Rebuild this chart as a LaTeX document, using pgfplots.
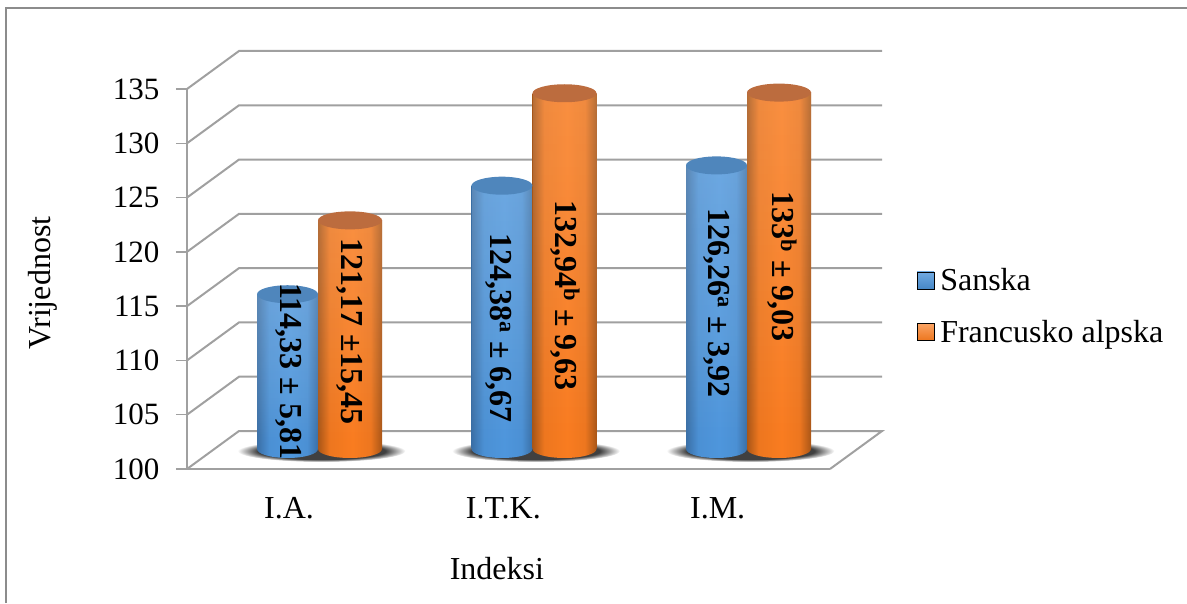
\documentclass[border=0pt]{standalone}
\usepackage{fontspec}
\setmainfont{Liberation Serif}
\usepackage{pgfplots}
\usepackage{pgfplotstable}
\pgfplotsset{compat=1.18}
\usetikzlibrary{fadings}

\definecolor{gridc}{HTML}{A0A0A0}
\definecolor{framec}{HTML}{8C8C8C}
\definecolor{capblue}{HTML}{4F86BC}
\definecolor{caporange}{HTML}{BC6C3E}
\definecolor{bedge}{HTML}{3A6FA6}
\definecolor{bmid}{HTML}{4E96DC}
\definecolor{oedge}{HTML}{A95617}
\definecolor{omid}{HTML}{F97C20}
\definecolor{shadowc}{HTML}{404040}

\pgfdeclarehorizontalshading{bluebar}{100bp}{color(0bp)=(bedge); color(25bp)=(bedge); color(35bp)=(bmid!85!bedge); color(52bp)=(bmid); color(66bp)=(bmid!85!bedge); color(75bp)=(bedge); color(100bp)=(bedge)}
\pgfdeclarehorizontalshading{orangebar}{100bp}{color(0bp)=(oedge); color(25bp)=(oedge); color(34bp)=(omid!85!oedge); color(52bp)=(omid); color(66bp)=(omid!85!oedge); color(75bp)=(oedge); color(100bp)=(oedge)}
\pgfdeclareradialshading{floorshadow}{\pgfpointorigin}{color(0bp)=(shadowc); color(19bp)=(shadowc); color(25bp)=(white); color(50bp)=(white)}

% cylinder ends, the pgfplots marks sit on the group position
\newcommand\cylend[3]{\pgfpathellipse{\pgfqpoint{#1}{#2}}{\pgfqpoint{#3}{0pt}}{\pgfqpoint{0pt}{9pt}}}
\pgfdeclareplotmark{bluecap}{\pgfsetfillcolor{capblue}\cylend{-30.5pt}{0pt}{30.5pt}\pgfusepathqfill}
\pgfdeclareplotmark{orangecap}{\pgfsetfillcolor{caporange}\cylend{32pt}{0pt}{32pt}\pgfusepathqfill}
\pgfdeclareplotmark{bluefoot}{\cylend{-30.5pt}{0pt}{30.5pt}\pgfshadepath{bluebar}{0}\pgfusepath{discard}}
\pgfdeclareplotmark{orangefoot}{\cylend{32pt}{0pt}{32pt}\pgfshadepath{orangebar}{0}\pgfusepath{discard}}
\pgfdeclareplotmark{shadow}{\pgfpathellipse{\pgfqpoint{3.5pt}{-2pt}}{\pgfqpoint{84pt}{0pt}}{\pgfqpoint{0pt}{11pt}}\pgfshadepath{floorshadow}{0}\pgfusepath{discard}}

\newcommand\chartfont{\fontsize{32}{38}\selectfont}
\newcommand\valfont{\fontsize{32}{38}\selectfont\bfseries}

\pgfplotsset{
    sanskabar/.style={ybar,bar width=61pt,bar shift=-30.5pt,draw=none,shading=bluebar,forget plot,
        postaction={fill=white,fill opacity=.22,path fading=south}},
    alpskabar/.style={ybar,bar width=64pt,bar shift=32pt,draw=none,shading=orangebar,forget plot,
        postaction={fill=white,fill opacity=.18,path fading=south}},
    cylaxis/.style={
        at={(210.75pt,154pt)},anchor=south west,
        scale only axis,width=643.5pt,height=378pt,
        xmin=-0.5,xmax=2.5,ymin=100,ymax=135,
        clip=false,hide axis},
}

\pgfplotstableread{
x sanska francusko
0 114.33 121.17
1 124.38 132.94
2 126.26 133
}\vals

\begin{document}
\begin{tikzpicture}
\useasboundingbox (0,0) rectangle (1187pt,603pt);
\draw[framec,line width=1.2pt] (6pt,0) -- (6pt,595pt) -- (1187pt,595pt);

% front plane with the ticks, walls and floor
\begin{axis}[
    at={(187pt,134pt)},anchor=south west,
    scale only axis,width=643pt,height=380pt,
    xmin=-0.476,xmax=2.524,ymin=100,ymax=135,
    clip=false,
    axis y line=left,axis x line=bottom,
    axis line style={-,draw=gridc,line width=2pt},
    ytick={100,105,...,135},
    xtick={0,1,2},xticklabels={I.A.,I.T.K.,I.M.},
    x tick style={draw=none},
    y tick style={draw=gridc,line width=1.5pt},
    tick align=outside,major tick length=11pt,
    /pgf/number format/assume math mode=true,
    yticklabel style={font=\fontsize{31}{36}\selectfont},
    xticklabel style={font=\chartfont},
    label style={font=\chartfont},
    yticklabel shift=13pt,
    xticklabel shift=14pt,
    unbounded coords=jump,
    xlabel={Indeksi},ylabel={Vrijednost},
    xlabel style={at={(axis description cs:0.482,-0.263)},anchor=center},
    ylabel style={at={(axis description cs:-0.224,0.489)},anchor=center},
]
\addplot[gridc,line width=2pt] coordinates {
    (-0.476,100)(-0.2334,103.5)(2.767,103.5)(2.524,100)(0,nan)
    (-0.476,105)(-0.2334,108.5)(2.767,108.5)(0,nan)
    (-0.476,110)(-0.2334,113.5)(2.767,113.5)(0,nan)
    (-0.476,115)(-0.2334,118.5)(2.767,118.5)(0,nan)
    (-0.476,120)(-0.2334,123.5)(2.767,123.5)(0,nan)
    (-0.476,125)(-0.2334,128.5)(2.767,128.5)(0,nan)
    (-0.476,130)(-0.2334,133.5)(2.767,133.5)(0,nan)
    (-0.476,135)(-0.2334,138.5)(2.767,138.5)
};
\end{axis}

% floor shadows need their own axis, marks come after the bars inside one axis
\begin{axis}[cylaxis]
\addplot[only marks,mark=shadow,forget plot] table[x=x,y expr=100]{\vals};
\end{axis}

% cylinders stand half way back on the floor
\begin{axis}[cylaxis,
    legend style={draw=none,fill=none,at={(axis description cs:1.097,0.378)},anchor=west,
        font=\chartfont,row sep=24pt,inner sep=0pt},
    legend cell align=left,
]
\addplot[only marks,mark=bluefoot,forget plot] table[x=x,y expr=100]{\vals};
\addplot[sanskabar] coordinates {(0,114.33)};
\addplot[sanskabar] coordinates {(1,124.38)};
\addplot[sanskabar] coordinates {(2,126.26)};
\addplot[only marks,mark=bluecap,forget plot] table[x=x,y=sanska]{\vals};

\addplot[only marks,mark=orangefoot,forget plot] table[x=x,y expr=100]{\vals};
\addplot[alpskabar] coordinates {(0,121.17)};
\addplot[alpskabar] coordinates {(1,132.94)};
\addplot[alpskabar] coordinates {(2,133)};
\addplot[only marks,mark=orangecap,forget plot] table[x=x,y=francusko]{\vals};

\addplot[draw=none,mark=none,forget plot,point meta=explicit symbolic,nodes near coords,
    nodes near coords style={rotate=-90,anchor=center,font=\valfont,text=black,inner sep=0pt}]
coordinates {
    (-0.135,107.2) [{114,33 ± 5,81}]
    (0.149,110.9) [{121,17 ±15,45}]
    (0.844,111.2) [{124,38\textsuperscript{a} ± 6,67}]
    (1.151,114.2) [{132,94\textsuperscript{b} ± 9,63}]
    (1.86,113.5) [{126,26\textsuperscript{a} ± 3,92}]
    (2.163,116.9) [{133\textsuperscript{b} ± 9,03}]
};

\addlegendimage{legend image code/.code={\path[top color=bmid!80!white,bottom color=bmid!90!black] (0pt,-8.5pt) rectangle (17pt,8.5pt); \path (21pt,0pt);}}
\addlegendimage{legend image code/.code={\path[top color=omid!70!white,bottom color=omid!95!black] (0pt,-8.5pt) rectangle (17pt,8.5pt); \path (21pt,0pt);}}
\legend{Sanska,Francusko alpska}
\end{axis}
\end{tikzpicture}
\end{document}
